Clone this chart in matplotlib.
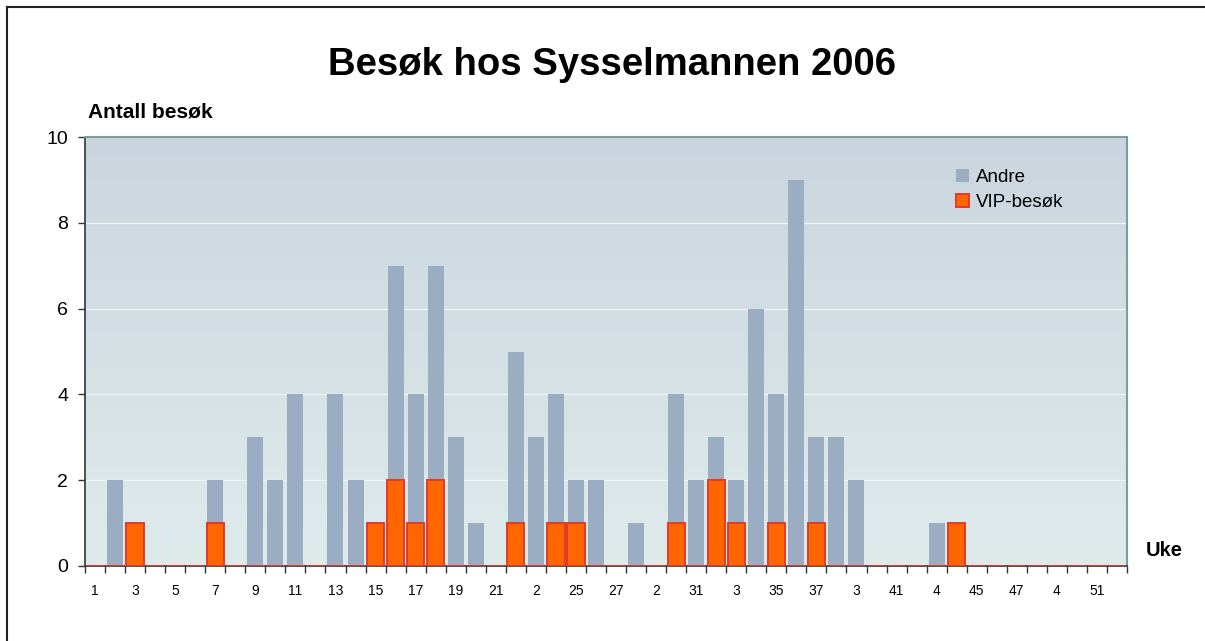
import numpy as np
import matplotlib
matplotlib.use("Agg")
import matplotlib.pyplot as plt
from matplotlib.lines import Line2D
from matplotlib.patches import Patch

plt.rcParams['font.family'] = ['Liberation Sans', 'DejaVu Sans']

weeks = list(range(1, 53))
andre = [0, 2, 0, 0, 0, 0, 2, 0, 3, 2, 4, 0, 4, 2, 0, 7, 4, 7, 3, 1,
         0, 5, 3, 4, 2, 2, 0, 1, 0, 4, 2, 3, 2, 6, 4, 9, 3, 3, 2, 0,
         0, 0, 1, 0, 0, 0, 0, 0, 0, 0, 0, 0]
vip = [0, 0, 1, 0, 0, 0, 1, 0, 0, 0, 0, 0, 0, 0, 1, 2, 1, 2, 0, 0,
       0, 1, 0, 1, 1, 0, 0, 0, 0, 1, 0, 2, 1, 0, 1, 0, 1, 0, 0, 0,
       0, 0, 0, 1, 0, 0, 0, 0, 0, 0, 0, 0]
label_weeks = list(range(1, 53, 2))
tick_labels = ["1", "3", "5", "7", "9", "11", "13", "15", "17", "19", "21", "2",
               "25", "27", "2", "31", "3", "35", "37", "3", "41", "4", "45",
               "47", "4", "51"]
series_names = ["Andre", "VIP-besøk"]

W, H = 1205, 641
fig = plt.figure(figsize=(W / 100, H / 100), dpi=100)
fig.patch.set_facecolor("white")

ax = fig.add_axes([85 / W, 1 - 566 / H, (1127 - 85) / W, (566 - 137) / H])
ax.set_xlim(0.5, 52.5)
ax.set_ylim(0, 10)

# gradient background
grad = np.linspace(0, 1, 256).reshape(-1, 1)
top = np.array([0xCA, 0xD5, 0xDF]) / 255
bot = np.array([0xDF, 0xEB, 0xEB]) / 255
img = top[None, None, :] * (1 - grad[:, :, None]) + bot[None, None, :] * grad[:, :, None]
ax.imshow(img, extent=[0, 1, 0, 1], transform=ax.transAxes, aspect='auto', zorder=0)

for yv in [2, 4, 6, 8]:
    ax.axhline(yv, color="#EEF3F4", lw=1.0, zorder=1)

ax.bar(weeks, andre, width=0.8, color="#9BADC3", zorder=2, label=series_names[0])
ax.bar(weeks, vip, width=0.86, color="#FF6600", edgecolor="#E23A2C", linewidth=1.4,
       zorder=3, label=series_names[1])

# spines
for s in ["top", "right"]:
    ax.spines[s].set_color("#7A9E9E")
    ax.spines[s].set_linewidth(1.5)
for s in ["left", "bottom"]:
    ax.spines[s].set_color("#2B3838")
    ax.spines[s].set_linewidth(1.2)

ax.set_yticks([0, 2, 4, 6, 8, 10])
ax.tick_params(axis='y', direction='out', length=5, width=1, color="#2B3838",
               labelsize=14, pad=7)
ax.set_xticks(label_weeks)
ax.set_xticklabels(tick_labels)
ax.set_xticks(np.arange(0.5, 53.5, 1), minor=True)
ax.tick_params(axis='x', which='major', length=0, labelsize=10, pad=13)
ax.tick_params(axis='x', which='minor', direction='out', length=5, width=1, color="#2B3838")

handles = [Patch(facecolor="#9BADC3", edgecolor="none"),
           Patch(facecolor="#FF6600", edgecolor="#E23A2C", linewidth=1.4)]
leg = ax.legend(handles, series_names, loc="upper left",
                bbox_to_anchor=((948 - 85) / (1127 - 85), 1 - (161 - 137) / (566 - 137)),
                frameon=False, fontsize=13.5, handlelength=0.7, handleheight=0.7,
                handletextpad=0.4, labelspacing=0.45, borderaxespad=0)

fig.text(612 / W, 1 - 65 / H, "Besøk hos Sysselmannen 2006", ha="center", va="center",
         fontsize=27.5, fontweight="bold")
fig.text(88 / W, 1 - 112 / H, "Antall besøk", ha="left", va="center",
         fontsize=15, fontweight="bold")
fig.text(1146 / W, 1 - 550 / H, "Uke", ha="left", va="center",
         fontsize=14.5, fontweight="bold")

# outer frame (top and left)
fig.add_artist(Line2D([7 / W, 7 / W], [0, 1 - 7 / H], transform=fig.transFigure,
                      color="#222222", lw=1.5))
fig.add_artist(Line2D([7 / W, 1], [1 - 7 / H, 1 - 7 / H], transform=fig.transFigure,
                      color="#222222", lw=1.5))

fig.savefig("out.png", dpi=100)
